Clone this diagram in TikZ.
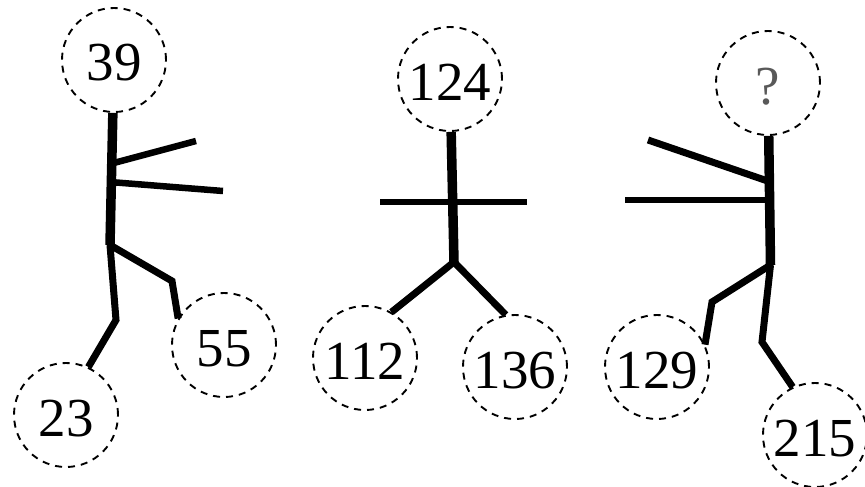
\documentclass[tikz,border=0pt]{standalone}
\usepackage{fontspec}
\setmainfont{Liberation Serif}
\begin{document}
\begin{tikzpicture}[x=1pt,y=-1pt,
  num/.style={circle,draw,line width=1.9pt,dash pattern=on 7pt off 6pt,minimum size=104pt,inner sep=0pt,text height=42pt,text depth=0pt,font=\fontsize{55}{55}\selectfont},
  spine/.style={line width=9.5pt},
  limb/.style={line width=7pt,line join=miter},
  bar/.style={line width=6.5pt}]
\useasboundingbox (0,0) rectangle (865,487);
% figure 1
\node[num] (n39) at (114,60) {39};
\node[num] (n23) at (66,415) {23};
\node[num] (n55) at (224,345) {55};
\coordinate (hipA) at (110,245);
\coordinate (armA1) at (196,141);
\coordinate (armA2) at (223,191);
\coordinate (shA1) at (110,164);
\coordinate (shA2) at (110,182);
\coordinate (kneeA1) at (116,320);
\coordinate (kneeA2) at (172,281);
\draw[spine] (n39) -- (hipA);
\draw[bar] (shA1) -- (armA1);
\draw[bar] (shA2) -- (armA2);
\draw[limb] (hipA) -- (kneeA1) -- (n23.65);
\draw[limb] (hipA) -- (kneeA2) -- (n55.150);
% figure 2
\node[num] (n124) at (450,79) {124};
\node[num] (n112) at (365,358) {112};
\node[num] (n136) at (515,367) {136};
\coordinate (hipB) at (454,262);
\coordinate (barL) at (380,202);
\coordinate (barR) at (527,202);
\draw[spine] (n124) -- (hipB);
\draw[bar] (barL) -- (barR);
\draw[limb] (hipB) -- (n112.60);
\draw[limb] (hipB) -- (n136.100);
% figure 3
\node[num] (nq) at (768,83) {\textcolor{black!65}{?}};
\node[num] (n129) at (657,367) {129};
\node[num] (n215) at (815,435) {215};
\coordinate (hipC) at (770.5,265);
\coordinate (shC1) at (770.5,182);
\coordinate (shC2) at (770.5,200);
\coordinate (armC1) at (648,140);
\coordinate (armC2) at (625,200);
\coordinate (kneeC1) at (712,302);
\coordinate (kneeC2) at (762,342);
\draw[spine] (nq) -- (hipC);
\draw[limb] (shC1) -- (armC1);
\draw[bar] (shC2) -- (armC2);
\draw[limb] (hipC) -- (kneeC1) -- (n129.25);
\draw[limb] (hipC) -- (kneeC2) -- (n215.115);
\end{tikzpicture}
\end{document}
